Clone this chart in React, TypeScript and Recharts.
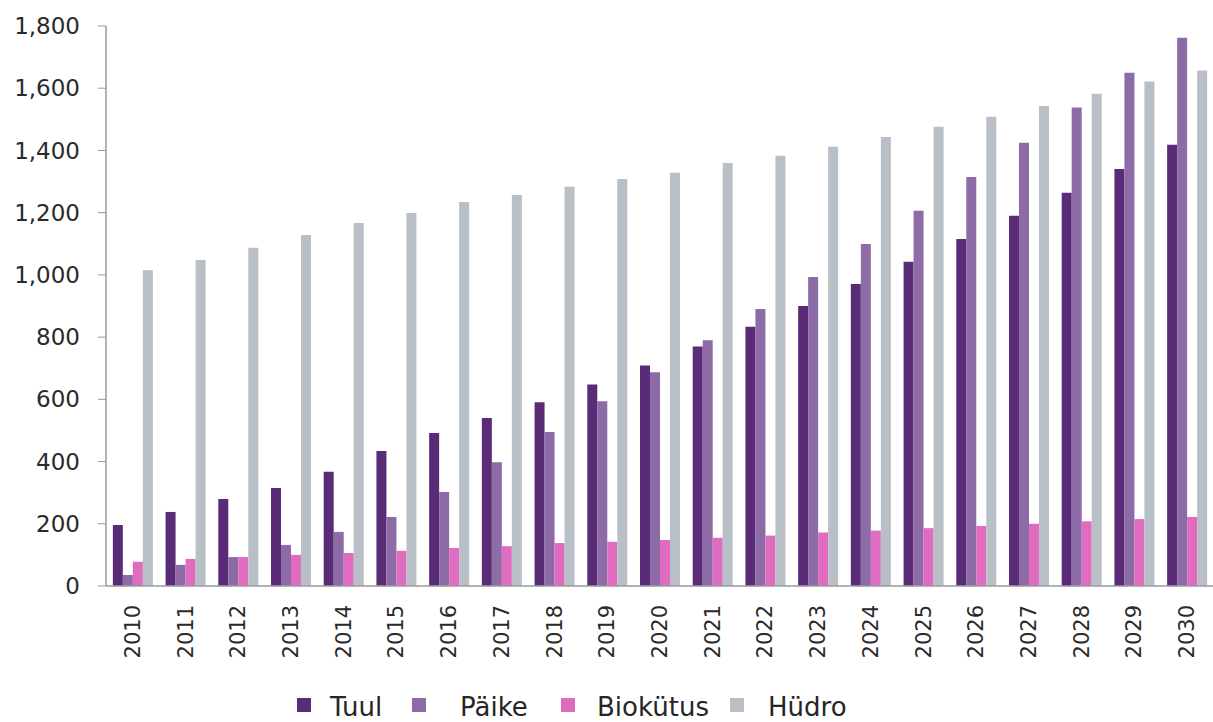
import React from "react";
import { BarChart, Bar, XAxis, YAxis, Legend } from "recharts";

const years = ["2010","2011","2012","2013","2014","2015","2016","2017","2018","2019","2020","2021","2022","2023","2024","2025","2026","2027","2028","2029","2030"];
const tuul = [196, 238, 280, 315, 367, 434, 492, 540, 591, 648, 709, 770, 833, 900, 971, 1042, 1115, 1190, 1264, 1340, 1418];
const paike = [35, 68, 93, 132, 174, 222, 302, 398, 495, 594, 687, 790, 890, 993, 1099, 1206, 1315, 1425, 1538, 1650, 1762];
const biokytus = [78, 87, 93, 100, 106, 113, 122, 128, 138, 142, 148, 155, 162, 172, 178, 186, 193, 200, 208, 215, 222];
const hudro = [1015, 1048, 1087, 1128, 1167, 1199, 1234, 1257, 1283, 1308, 1328, 1360, 1383, 1412, 1443, 1476, 1508, 1543, 1582, 1622, 1657];
const yTicks = [0, 200, 400, 600, 800, 1000, 1200, 1400, 1600, 1800];

const seriesNames = ["Tuul", "Päike", "Biokütus", "Hüdro"];
const seriesKeys = ["tuul", "paike", "bio", "hudro"];
const seriesColors = ["#5A2C77", "#8C6BA6", "#E06CC0", "#B8BFC7"];

const data = years.map((y, i) => ({
  year: y,
  tuul: tuul[i],
  paike: paike[i],
  bio: biokytus[i],
  hudro: hudro[i],
}));

const FONT = "'DejaVu Sans', sans-serif";

const XTick = (props: any) => {
  const { x, y, payload } = props;
  return (
    <g transform={`translate(${x},${y + 11})`}>
      <text
        x={0}
        y={0}
        dy="0.36em"
        textAnchor="end"
        transform="rotate(-90)"
        fill="#2a2a2a"
        fontSize={21}
        fontFamily={FONT}
      >
        {payload.value}
      </text>
    </g>
  );
};

const legendSquareX = [297, 412, 561, 730];
const legendTextX = [330, 460, 597, 768];

const LegendContent = () => (
  <div style={{ position: "relative", width: 1213, height: 30 }}>
    {seriesNames.map((n, i) => (
      <React.Fragment key={n}>
        <div
          style={{
            position: "absolute",
            left: legendSquareX[i],
            top: 6,
            width: 14,
            height: 14,
            background: seriesColors[i],
          }}
        />
        <div
          style={{
            position: "absolute",
            left: legendTextX[i],
            top: 0,
            fontFamily: FONT,
            fontSize: 26,
            lineHeight: "30px",
            color: "#262626",
            whiteSpace: "nowrap",
          }}
        >
          {n}
        </div>
      </React.Fragment>
    ))}
  </div>
);

export default function App() {
  return (
    <div style={{ position: "absolute", left: 0, top: 0, width: 1213, height: 722, background: "#fff" }}>
      <BarChart
        width={1213}
        height={722}
        data={data}
        margin={{ top: 26, right: 0, left: 0, bottom: 0 }}
        barCategoryGap="13%"
        barGap={0}
      >
        <XAxis
          dataKey="year"
          tickLine={false}
          axisLine={{ stroke: "#9a9a9a", strokeWidth: 1.5 }}
          interval={0}
          height={106}
          tick={<XTick />}
        />
        <YAxis
          width={106}
          domain={[0, 1800]}
          ticks={yTicks}
          interval={0}
          tickSize={8}
          tickMargin={18}
          axisLine={{ stroke: "#9a9a9a", strokeWidth: 1.5 }}
          tickLine={{ stroke: "#9a9a9a" }}
          tick={{ fill: "#2a2a2a", fontSize: 23, fontFamily: FONT }}
          tickFormatter={(v: number) => v.toLocaleString("en-US")}
        />
        <Legend verticalAlign="bottom" height={30} content={<LegendContent />} />
        {seriesKeys.map((k, i) => (
          <Bar key={k} dataKey={k} name={seriesNames[i]} fill={seriesColors[i]} isAnimationActive={false} />
        ))}
      </BarChart>
    </div>
  );
}
